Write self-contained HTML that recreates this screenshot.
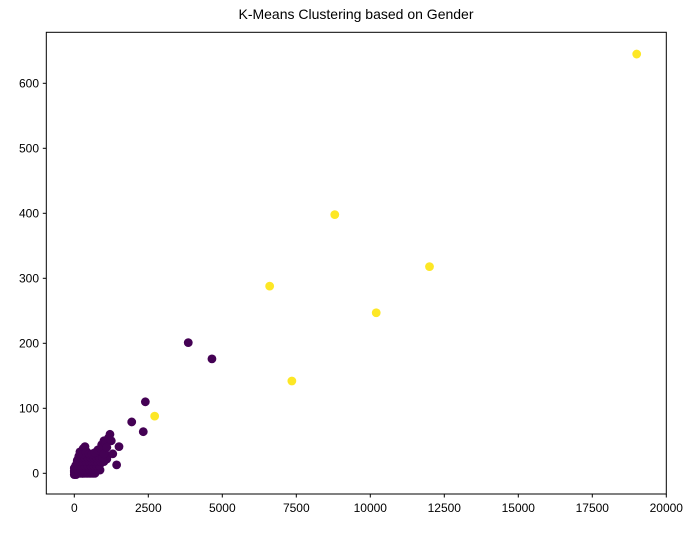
<!DOCTYPE html>
<html><head><meta charset="utf-8"><style>
body{margin:0;background:#fff;font-family:"Liberation Sans","DejaVu Sans",sans-serif}
</style></head><body>
<svg id="chart" width="697" height="528" xmlns="http://www.w3.org/2000/svg">
<rect width="697" height="528" fill="#fff"/>
<text x="356" y="19" text-anchor="middle" font-size="14" fill="#000">K-Means Clustering based on Gender</text>
<g id="points"></g>
<rect x="46.3" y="32.3" width="620" height="461.7" fill="none" stroke="#000" stroke-width="1"/>
<g id="xt"></g>
<g id="yt"></g>
</svg>
<script>
const xTicks=[0,2500,5000,7500,10000,12500,15000,17500,20000];
const yTicks=[0,100,200,300,400,500,600];
const purpleX=[2400,1940,2330,1510,1205,1430,870,1095,925,360,190,3850,4650,1000,800,700,600,500,400,300,200,100,50,0,20,80,150,250,350,450,550,650,750,300,200,100,500,400,600,700,150,250,350,450,1100,900,1300,120,60,30,10,280,380,480,580,680,220,320,420,
0,0,50,100,150,200,250,300,350,400,450,500,550,600,650,700,0,100,200,300,400,500,600,700,800,50,150,250,350,450,550,650,750,850,100,200,300,400,500,600,700,800,900,1000,150,250,350,450,550,650,750,850,950,200,300,400,500,600,700,800,900,1050,1150,1250,1000,1100];
const purpleY=[110,79,64,41,60,13,5,28,44,41,33,201,176,50,36,30,25,28,34,38,30,20,12,2,0,5,8,10,6,4,8,12,18,22,18,14,16,20,10,22,26,28,2,3,22,18,30,0,-2,3,8,0,2,6,4,16,14,12,15,
-2,4,0,0,0,0,0,0,0,0,0,0,0,0,0,0,8,6,6,6,6,6,6,6,6,12,12,12,12,12,12,12,12,12,18,18,18,18,18,18,18,18,18,18,24,24,24,24,24,24,24,24,24,30,30,32,30,30,32,36,38,46,54,50,30,40];
const yellowX=[19000,8800,12000,6600,10200,7350,2715];
const yellowY=[645,398,318,288,247,142,88];
const X=v=>74.3+v*0.0296, Y=v=>473.3-v*0.65;
const NS="http://www.w3.org/2000/svg";
const pg=document.getElementById('points');
function dot(x,y,c,name){const e=document.createElementNS(NS,'circle');
e.setAttribute('cx',X(x));e.setAttribute('cy',Y(y));e.setAttribute('r',4.4);e.setAttribute('fill',c);


pg.appendChild(e);}
purpleX.forEach((x,i)=>dot(x,purpleY[i],'#440154','point-cluster-0'));
yellowX.forEach((x,i)=>dot(x,yellowY[i],'#fde725','point-cluster-1'));
const xg=document.getElementById('xt'),yg=document.getElementById('yt');
xTicks.forEach(t=>{const l=document.createElementNS(NS,'line');l.setAttribute('x1',X(t));l.setAttribute('x2',X(t));l.setAttribute('y1',494);l.setAttribute('y2',497.5);l.setAttribute('stroke','#000');


xg.appendChild(l);
const s=document.createElementNS(NS,'text');s.setAttribute('x',X(t));s.setAttribute('y',512);s.setAttribute('text-anchor','middle');s.setAttribute('font-size','12');s.textContent=t;


xg.appendChild(s);});
yTicks.forEach(t=>{const l=document.createElementNS(NS,'line');l.setAttribute('x1',42.8);l.setAttribute('x2',46.3);l.setAttribute('y1',Y(t));l.setAttribute('y2',Y(t));l.setAttribute('stroke','#000');


yg.appendChild(l);
const s=document.createElementNS(NS,'text');s.setAttribute('x',39);s.setAttribute('y',Y(t)+4.3);s.setAttribute('text-anchor','end');s.setAttribute('font-size','12');s.textContent=t;


yg.appendChild(s);});
</script>
</body></html>
